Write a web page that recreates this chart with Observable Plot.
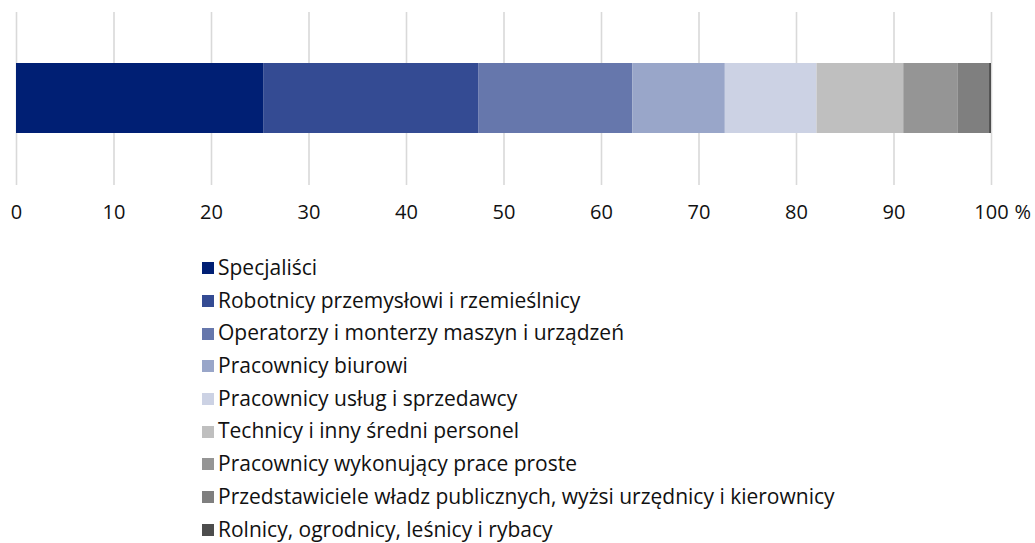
<!DOCTYPE html>
<html>
<head>
<meta charset="utf-8">
<script src="https://cdn.jsdelivr.net/npm/d3@7"></script>
<script src="https://cdn.jsdelivr.net/npm/@observablehq/plot@0.6"></script>
<style>
  body { margin: 0; background: #fff; font-family: "Open Sans", sans-serif; }
  #chart svg { display: block; }
  #legend { margin-top: 21px; padding-left: 202px; }
  .item { height: 32.7px; line-height: 32.7px; font-size: 21px; color: #111; white-space: nowrap; display: flex; align-items: center; }
  .sw { width: 12px; height: 12px; display: inline-block; margin-right: 4px; position: relative; top: 1px; }
</style>
</head>
<body>
<div id="chart"></div>
<div id="legend"></div>
<script>
const categories = [
  "Specjaliści",
  "Robotnicy przemysłowi i rzemieślnicy",
  "Operatorzy i monterzy maszyn i urządzeń",
  "Pracownicy biurowi",
  "Pracownicy usług i sprzedawcy",
  "Technicy i inny średni personel",
  "Pracownicy wykonujący prace proste",
  "Przedstawiciele władz publicznych, wyżsi urzędnicy i kierownicy",
  "Rolnicy, ogrodnicy, leśnicy i rybacy"
];
const values = [25.4, 22.0, 15.8, 9.5, 9.4, 8.9, 5.6, 3.2, 0.2];
const colors = ["#001f74", "#344b93", "#6677ac", "#99a6c9", "#ccd2e4", "#bfbfbf", "#959595", "#7f7f7f", "#4d4d4d"];
const ticks = [0, 10, 20, 30, 40, 50, 60, 70, 80, 90, 100];

const data = categories.map((c, i) => ({category: c, value: values[i], row: "all"}));

const plot = Plot.plot({
  width: 1035,
  height: 230,
  marginLeft: 16,
  marginRight: 44,
  marginTop: 12,
  marginBottom: 45,
  style: {fontFamily: "Open Sans, sans-serif", fontSize: "20px", color: "#111"},
  x: {domain: [0, 100], ticks: ticks, label: null},
  y: {domain: ["all"], padding: 0.42, axis: null},
  color: {domain: categories, range: colors},
  marks: [
    Plot.ruleX(ticks, {stroke: "#d9d9d9", strokeWidth: 1.6}),
    Plot.barX(data, {x: "value", y: "row", fill: "category", order: null}),
    Plot.axisX({ticks: ticks, tickSize: 0, tickPadding: 19, fontSize: 20, label: null, tickFormat: d => String(d)}),
    Plot.text([100], {x: d => d, frameAnchor: "bottom", text: () => "%", textAnchor: "start", lineAnchor: "top", dx: 23, dy: 19, fontSize: 20, fill: "#111"})
  ]
});
document.getElementById("chart").appendChild(plot);

const legend = document.getElementById("legend");
categories.forEach((c, i) => {
  const div = document.createElement("div");
  div.className = "item";
  const sw = document.createElement("span");
  sw.className = "sw";
  sw.style.background = colors[i];
  div.appendChild(sw);
  div.appendChild(document.createTextNode(c));
  legend.appendChild(div);
});
</script>
</body>
</html>
